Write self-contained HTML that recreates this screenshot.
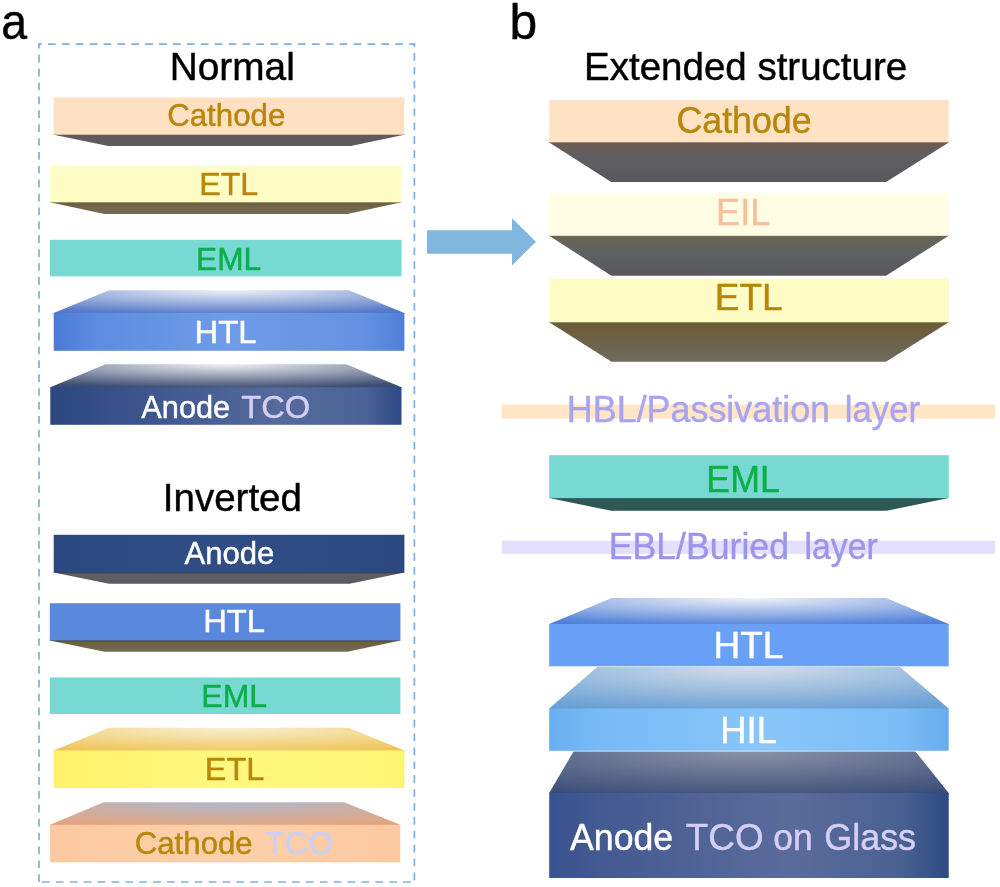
<!DOCTYPE html>
<html><head><meta charset="utf-8"><title>OLED device structures</title>
<style>
html,body{margin:0;padding:0;background:#fff;}
body{width:1000px;height:887px;overflow:hidden;}
svg{display:block;font-family:'Liberation Sans', Arial, sans-serif;will-change:transform;}
text{stroke-width:0.45px;stroke-linejoin:round;}
</style></head><body>
<svg width="1000" height="887" viewBox="0 0 1000 887">
<defs><linearGradient id="g1" x1="0" y1="0" x2="0" y2="1"><stop offset="0" stop-color="#66585a"/><stop offset="1" stop-color="#5a5c62"/></linearGradient><linearGradient id="g2" x1="0" y1="0" x2="0" y2="1"><stop offset="0" stop-color="#6e5f3c"/><stop offset="1" stop-color="#736c5a"/></linearGradient><radialGradient id="g3" cx="0" cy="0" r="1" gradientTransform="translate(0.5 0.0) scale(1.003 1.2389999999999999)"><stop offset="0" stop-color="#eef1f8"/><stop offset="0.805" stop-color="#5a7cc8"/><stop offset="1" stop-color="#4a72cc"/></radialGradient><linearGradient id="g4" x1="0" y1="0" x2="1" y2="0"><stop offset="0" stop-color="#4a7ad6"/><stop offset="0.12" stop-color="#5d8ce0"/><stop offset="0.5" stop-color="#6f9ce8"/><stop offset="0.88" stop-color="#6591e2"/><stop offset="1" stop-color="#4e7fd8"/></linearGradient><radialGradient id="g5" cx="0" cy="0" r="1" gradientTransform="translate(0.5 0.0) scale(1.003 1.2389999999999999)"><stop offset="0" stop-color="#f0f0f4"/><stop offset="0.805" stop-color="#405074"/><stop offset="1" stop-color="#2c4682"/></radialGradient><linearGradient id="g6" x1="0" y1="0" x2="1" y2="0"><stop offset="0" stop-color="#2c4680"/><stop offset="0.3" stop-color="#3e578f"/><stop offset="0.65" stop-color="#566b9c"/><stop offset="0.9" stop-color="#4a6296"/><stop offset="1" stop-color="#2e4984"/></linearGradient><linearGradient id="g7" x1="0" y1="0" x2="1" y2="0"><stop offset="0" stop-color="#2c4880"/><stop offset="0.5" stop-color="#304d85"/><stop offset="1" stop-color="#2c4880"/></linearGradient><linearGradient id="g8" x1="0" y1="0" x2="0" y2="1"><stop offset="0" stop-color="#24304a"/><stop offset="0.2" stop-color="#5e5f62"/><stop offset="1" stop-color="#5b5b5e"/></linearGradient><linearGradient id="g9" x1="0" y1="0" x2="0" y2="1"><stop offset="0" stop-color="#2e3c58"/><stop offset="0.22" stop-color="#6e6038"/><stop offset="1" stop-color="#6f6a5a"/></linearGradient><radialGradient id="g10" cx="0" cy="0" r="1" gradientTransform="translate(0.5 0.0) scale(1.003 1.2389999999999999)"><stop offset="0" stop-color="#f8f0d2"/><stop offset="0.805" stop-color="#f0c862"/><stop offset="1" stop-color="#ebb850"/></radialGradient><linearGradient id="g11" x1="0" y1="0" x2="1" y2="0"><stop offset="0" stop-color="#fff26a"/><stop offset="0.5" stop-color="#fff87e"/><stop offset="1" stop-color="#fff574"/></linearGradient><radialGradient id="g12" cx="0" cy="0" r="1" gradientTransform="translate(0.5 0.0) scale(1.003 1.2389999999999999)"><stop offset="0" stop-color="#b2b8cc"/><stop offset="0.805" stop-color="#e0a684"/><stop offset="1" stop-color="#dc9c7a"/></radialGradient><linearGradient id="g13" x1="0" y1="0" x2="1" y2="0"><stop offset="0" stop-color="#fcc9a0"/><stop offset="0.5" stop-color="#fdd0aa"/><stop offset="1" stop-color="#fcc9a0"/></linearGradient><linearGradient id="g14" x1="0" y1="0" x2="0" y2="1"><stop offset="0" stop-color="#6e5a50"/><stop offset="0.4" stop-color="#5f5f63"/><stop offset="1" stop-color="#58595d"/></linearGradient><linearGradient id="g15" x1="0" y1="0" x2="0" y2="1"><stop offset="0" stop-color="#6b6753"/><stop offset="0.45" stop-color="#5f6063"/><stop offset="1" stop-color="#58595d"/></linearGradient><linearGradient id="g16" x1="0" y1="0" x2="0" y2="1"><stop offset="0" stop-color="#6b5c36"/><stop offset="1" stop-color="#6e6a5c"/></linearGradient><radialGradient id="g17" cx="0" cy="0" r="1" gradientTransform="translate(0.5 0.0) scale(1.003 1.2389999999999999)"><stop offset="0" stop-color="#f0f2f8"/><stop offset="0.805" stop-color="#5886da"/><stop offset="1" stop-color="#4a78d6"/></radialGradient><radialGradient id="g18" cx="0" cy="0" r="1" gradientTransform="translate(0.5 0.0) scale(1.003 1.2389999999999999)"><stop offset="0" stop-color="#d6dee9"/><stop offset="0.805" stop-color="#70a4d6"/><stop offset="1" stop-color="#629ad6"/></radialGradient><linearGradient id="g19" x1="0" y1="0" x2="1" y2="0"><stop offset="0" stop-color="#68aef0"/><stop offset="0.12" stop-color="#78baf6"/><stop offset="0.55" stop-color="#88c6fa"/><stop offset="0.88" stop-color="#7cbcf6"/><stop offset="1" stop-color="#68acee"/></linearGradient><radialGradient id="g20" cx="0" cy="0" r="1" gradientTransform="translate(0.5 0.0) scale(1.003 1.2389999999999999)"><stop offset="0" stop-color="#8a92a6"/><stop offset="0.805" stop-color="#44567e"/><stop offset="1" stop-color="#30467c"/></radialGradient><linearGradient id="g21" x1="0" y1="0" x2="1" y2="0"><stop offset="0" stop-color="#385390"/><stop offset="0.12" stop-color="#435990"/><stop offset="0.6" stop-color="#5a6c9c"/><stop offset="0.88" stop-color="#4a6191"/><stop offset="1" stop-color="#2e4a82"/></linearGradient></defs>
<rect width="1000" height="887" fill="#fff"/>
<text transform="translate(1.23 39.30) scale(0.9288 1)" font-size="50" xml:space="preserve"><tspan fill="#000" stroke="#000">a</tspan></text>
<line x1="38.2" y1="44.2" x2="415.4" y2="44.2" stroke="#7cb0e2" stroke-width="1.7" stroke-dasharray="7.7 6.19" stroke-dashoffset="4.09"/>
<line x1="414.4" y1="43.4" x2="414.4" y2="881" stroke="#7cb0e2" stroke-width="1.7" stroke-dasharray="7.7 6.19" stroke-dashoffset="4.29"/>
<line x1="38" y1="882" x2="415" y2="882" stroke="#7cb0e2" stroke-width="1.7" stroke-dasharray="7.7 6.19" stroke-dashoffset="9.89"/>
<line x1="39" y1="43.2" x2="39" y2="882.5" stroke="#7cb0e2" stroke-width="1.7" stroke-dasharray="7.7 6.19" stroke-dashoffset="2.30"/>
<text transform="translate(169.80 80.00) scale(1.0077 1)" font-size="38.5" xml:space="preserve"><tspan fill="#000" stroke="#000">Normal</tspan></text>
<polygon points="53.7,133.9 404.4,133.9 404.4,134.7 350.8,146.0 108.2,146.0 53.7,134.7" fill="url(#g1)"/>
<rect x="53.7" y="97.5" width="350.7" height="37.2" fill="#fee0c2"/>
<text transform="translate(167.14 126.40) scale(0.9771 1)" font-size="32" xml:space="preserve"><tspan fill="#b8860b" stroke="#b8860b">Cathode</tspan></text>
<polygon points="49.8,201.5 401.5,201.5 401.5,202.3 347.4,214.0 104.4,214.0 49.8,202.3" fill="url(#g2)"/>
<rect x="49.8" y="165.6" width="351.7" height="36.7" fill="#fffdc6"/>
<text transform="translate(199.14 195.00) scale(1.0080 1)" font-size="32" xml:space="preserve"><tspan fill="#b8860b" stroke="#b8860b">ETL</tspan></text>
<rect x="49.8" y="239.8" width="351.7" height="36.6" fill="#78d9d2"/>
<text transform="translate(196.09 269.60) scale(0.9890 1)" font-size="32" xml:space="preserve"><tspan fill="#0cae4a" stroke="#0cae4a">EML</tspan></text>
<polygon points="109.0,290.3 349.0,290.3 404.4,312.9 404.4,313.7 53.7,313.7 53.7,312.9" fill="url(#g3)"/>
<rect x="53.7" y="312.9" width="350.7" height="37.9" fill="url(#g4)"/>
<text transform="translate(194.60 342.90) scale(1.0243 1)" font-size="32" xml:space="preserve"><tspan fill="#fff" stroke="#fff">HTL</tspan></text>
<polygon points="105.5,364.3 346.3,364.3 401.5,387.3 401.5,388.1 50.3,388.1 50.3,387.3" fill="url(#g5)"/>
<rect x="50.3" y="387.3" width="351.2" height="37.5" fill="url(#g6)"/>
<text transform="translate(141.32 417.60) scale(0.9600 1)" font-size="32" xml:space="preserve"><tspan fill="#fff" stroke="#fff">Anode</tspan></text>
<text transform="translate(241.37 417.60) scale(1.0187 1)" font-size="32" xml:space="preserve"><tspan fill="#d5cff5" stroke="#d5cff5">TCO</tspan></text>
<text x="162.84" y="510.50" font-size="38.5" xml:space="preserve"><tspan fill="#000" stroke="#000">Inverted</tspan></text>
<polygon points="53.7,571.7 404.4,571.7 404.4,572.5 349.6,583.8 109.0,583.8 53.7,572.5" fill="url(#g8)"/>
<rect x="53.7" y="534.8" width="350.7" height="37.7" fill="url(#g7)"/>
<text transform="translate(184.42 563.50) scale(0.9721 1)" font-size="32" xml:space="preserve"><tspan fill="#fff" stroke="#fff">Anode</tspan></text>
<polygon points="49.8,639.6 400.4,639.6 400.4,640.4 347.4,651.7 104.4,651.7 49.8,640.4" fill="url(#g9)"/>
<rect x="49.8" y="603.2" width="350.6" height="37.2" fill="#5a88dd"/>
<text transform="translate(203.20 632.30) scale(1.0243 1)" font-size="32" xml:space="preserve"><tspan fill="#fff" stroke="#fff">HTL</tspan></text>
<rect x="49.8" y="677.4" width="350.6" height="36.6" fill="#78d9d2"/>
<text x="201.36" y="707.40" font-size="32" xml:space="preserve"><tspan fill="#0cae4a" stroke="#0cae4a">EML</tspan></text>
<polygon points="108.9,727.7 348.5,727.7 404.4,750.4 404.4,751.2 53.7,751.2 53.7,750.4" fill="url(#g10)"/>
<rect x="53.7" y="750.4" width="350.7" height="37.7" fill="url(#g11)"/>
<text transform="translate(204.82 780.00) scale(1.0135 1)" font-size="32" xml:space="preserve"><tspan fill="#b8860b" stroke="#b8860b">ETL</tspan></text>
<polygon points="103.8,802.2 344.3,802.2 400.2,824.8 400.2,825.6 50.0,825.6 50.0,824.8" fill="url(#g12)"/>
<rect x="50.0" y="824.8" width="350.2" height="37.5" fill="url(#g13)"/>
<text transform="translate(134.74 853.90) scale(0.9754 1)" font-size="32" xml:space="preserve"><tspan fill="#b8860b" stroke="#b8860b">Cathode</tspan></text>
<text transform="translate(264.67 853.90) scale(1.0202 1)" font-size="32" xml:space="preserve"><tspan fill="#cbcff8" stroke="#cbcff8">TCO</tspan></text>
<text x="509.56" y="39.10" font-size="49.8" xml:space="preserve"><tspan fill="#000" stroke="#000">b</tspan></text>
<text x="584.02" y="80.30" font-size="38.5" xml:space="preserve"><tspan fill="#000" stroke="#000">Extended structure</tspan></text>
<polygon points="426.9,230.2 512.0,230.2 512.0,218.2 536.0,241.8 512.0,265.5 512.0,253.8 426.9,253.8" fill="#80b7df"/>
<polygon points="549.2,141.6 948.7,141.6 948.7,142.4 886.1,182.1 611.2,182.1 549.2,142.4" fill="url(#g14)"/>
<rect x="549.2" y="100.0" width="399.5" height="42.3" fill="#fee2c3"/>
<text transform="translate(676.51 132.50) scale(0.9653 1)" font-size="37" xml:space="preserve"><tspan fill="#b8860b" stroke="#b8860b">Cathode</tspan></text>
<polygon points="549.2,235.0 948.7,235.0 948.7,235.8 886.0,275.8 611.5,275.8 549.2,235.8" fill="url(#g15)"/>
<rect x="549.2" y="193.2" width="399.5" height="42.6" fill="#fffde4"/>
<text transform="translate(716.12 225.30) scale(0.9757 1)" font-size="37" xml:space="preserve"><tspan fill="#f7bf9f" stroke="#f7bf9f">EIL</tspan></text>
<polygon points="549.2,321.5 948.7,321.5 948.7,322.3 886.0,361.8 611.5,361.8 549.2,322.3" fill="url(#g16)"/>
<rect x="549.2" y="278.6" width="399.5" height="43.7" fill="#fffdc6"/>
<text x="714.85" y="309.80" font-size="37" xml:space="preserve"><tspan fill="#b8860b" stroke="#b8860b">ETL</tspan></text>
<rect x="501.6" y="404.5" width="493.6" height="14.2" fill="#fee6c6"/>
<text transform="translate(566.84 421.90) scale(0.9698 1)" font-size="37" xml:space="preserve"><tspan fill="#a9a3f2" stroke="#a9a3f2">HBL/Passivation</tspan></text>
<text transform="translate(844.86 421.90) scale(0.9372 1)" font-size="37" xml:space="preserve"><tspan fill="#a9a3f2" stroke="#a9a3f2">layer</tspan></text>
<polygon points="549.2,497.3 948.7,497.3 948.7,498.1 886.6,510.8 611.2,510.8 549.2,498.1" fill="#2e5853"/>
<rect x="549.2" y="455.2" width="399.5" height="42.9" fill="#78d9d2"/>
<text transform="translate(706.35 491.90) scale(0.9654 1)" font-size="37" xml:space="preserve"><tspan fill="#0cae4a" stroke="#0cae4a">EML</tspan></text>
<rect x="501.8" y="540.6" width="493.4" height="13.3" fill="#e4e0fb"/>
<text transform="translate(608.76 559.20) scale(0.9633 1)" font-size="37" xml:space="preserve"><tspan fill="#9b96ec" stroke="#9b96ec">EBL/Buried</tspan></text>
<text transform="translate(804.42 559.20) scale(0.9139 1)" font-size="37" xml:space="preserve"><tspan fill="#9b96ec" stroke="#9b96ec">layer</tspan></text>
<polygon points="611.8,598.1 886.0,598.1 948.7,624.0 948.7,624.8 549.2,624.8 549.2,624.0" fill="url(#g17)"/>
<rect x="549.2" y="624.0" width="399.5" height="42.3" fill="#68a0f8"/>
<text x="713.55" y="658.20" font-size="37" xml:space="preserve"><tspan fill="#fff" stroke="#fff">HTL</tspan></text>
<polygon points="597.2,667.0 900.0,667.0 948.7,708.5 948.7,709.3 549.2,709.3 549.2,708.5" fill="url(#g18)"/>
<rect x="549.2" y="708.5" width="399.5" height="42.3" fill="url(#g19)"/>
<text transform="translate(720.30 742.70) scale(0.9835 1)" font-size="37" xml:space="preserve"><tspan fill="#fff" stroke="#fff">HIL</tspan></text>
<polygon points="573.5,751.4 915.4,751.4 948.7,793.1 948.7,793.9 549.2,793.9 549.2,793.1" fill="url(#g20)"/>
<rect x="549.2" y="793.1" width="399.5" height="84.9" fill="url(#g21)"/>
<text transform="translate(570.11 850.20) scale(0.9633 1)" font-size="37" xml:space="preserve"><tspan fill="#fff" stroke="#fff">Anode</tspan></text>
<text transform="translate(685.87 850.20) scale(0.9950 1)" font-size="37" xml:space="preserve"><tspan fill="#d5cff5" stroke="#d5cff5">TCO</tspan></text>
<text transform="translate(773.30 850.20) scale(0.9571 1)" font-size="37" xml:space="preserve"><tspan fill="#d5cff5" stroke="#d5cff5">on</tspan></text>
<text transform="translate(824.20 850.20) scale(0.9717 1)" font-size="37" xml:space="preserve"><tspan fill="#d5cff5" stroke="#d5cff5">Glass</tspan></text>
</svg>
</body></html>
